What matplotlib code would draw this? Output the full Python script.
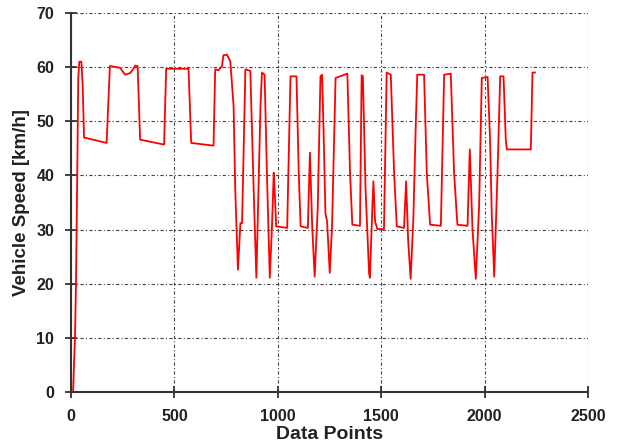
import numpy as np
import matplotlib
matplotlib.use('Agg')
import matplotlib.pyplot as plt
import matplotlib as mpl

mpl.rcParams['font.family'] = 'Liberation Sans'
mpl.rcParams['font.weight'] = 'bold'

# speed profile (data point index, km/h)
points = [10, 19, 24, 30, 35, 40, 50, 56, 63,
          172, 188, 237, 250, 262, 286, 300, 310, 322, 334,
          450, 460, 568, 581, 689, 697, 713, 730, 737, 754, 770, 786, 794, 807,
          819, 827, 843, 867, 883, 896, 916, 923, 936, 947, 961, 972, 980, 985,
          992, 1045, 1061, 1090, 1101, 1110, 1145, 1155, 1166, 1178, 1193, 1206,
          1214, 1222, 1230, 1238, 1251, 1262, 1279, 1336, 1349, 1360, 1397, 1405,
          1411, 1424, 1441, 1445, 1457, 1462, 1470, 1481, 1513, 1526, 1546, 1562, 1575,
          1610, 1620, 1630, 1642, 1655, 1667, 1674, 1707, 1720, 1736, 1788, 1804,
          1836, 1852, 1868, 1917, 1928, 1941, 1957, 1973, 1986, 2014, 2026, 2034,
          2046, 2062, 2075, 2091, 2102, 2107, 2223, 2231, 2243]
speed = [0, 10, 20, 40, 58, 61, 61, 57, 47,
         46, 60.2, 59.9, 59.2, 58.6, 58.9, 59.6, 60.3, 60.2, 46.6,
         45.7, 59.7, 59.7, 46, 45.5, 59.6, 59.4, 60.2, 62.2, 62.3, 61.1, 52.8, 37.4, 22.6,
         31.2, 31.2, 59.6, 59.3, 37.4, 21.1, 52.8, 59, 58.6, 40.5, 21.1, 31, 40.5, 36.8,
         30.6, 30.3, 58.3, 58.3, 40.5, 30.6, 30.3, 44.2, 30.6, 21.3, 34.3, 58.3,
         58.6, 46.6, 33, 31.5, 22, 30.6, 58, 58.8, 40.5, 30.9, 30.7, 58.5,
         58.3, 37.4, 22, 21.1, 34.3, 38.9, 31.5, 30.1, 30.1, 59, 58.6, 40.5, 30.6,
         30.3, 38.9, 28, 20.9, 32, 49.7, 58.6, 58.6, 40.5, 30.9, 30.7, 58.6,
         58.8, 40.5, 30.9, 30.7, 44.8, 30, 20.9, 34.3, 58, 58.2, 46.6, 33,
         21.3, 40.5, 58.3, 58.3, 46.6, 44.8, 44.8, 59, 59]

xticks = [0, 500, 1000, 1500, 2000, 2500]
yticks = [0, 10, 20, 30, 40, 50, 60, 70]

fig = plt.figure(figsize=(6.23, 4.48), dpi=100)
ax = fig.add_axes([0.114, 0.125, 0.83, 0.846])

ax.plot(points, speed, color='red', lw=1.3)

ax.set_xlim(0, 2500)
ax.set_ylim(0, 70)
ax.set_xticks(xticks)
ax.set_yticks(yticks)
ax.grid(True, color='#444444', lw=0.8, linestyle=(0, (3, 2, 1, 2)))
ax.set_axisbelow(True)

for s in ['top', 'right']:
    ax.spines[s].set_visible(False)
for s in ['left', 'bottom']:
    ax.spines[s].set_linewidth(1.5)
    ax.spines[s].set_color('#333333')

ax.tick_params(direction='inout', length=8, width=1.3, color='#333333',
               labelsize=11.5, labelcolor='#222222', pad=8)
for lab in ax.get_xticklabels() + ax.get_yticklabels():
    lab.set_fontweight('bold')

ax.set_xlabel('Data Points', fontsize=14, fontweight='bold', color='#222222', labelpad=2)
ax.set_ylabel('Vehicle Speed [km/h]', fontsize=13.5, fontweight='bold', color='#222222', labelpad=5)

fig.savefig('out.png', dpi=100)
